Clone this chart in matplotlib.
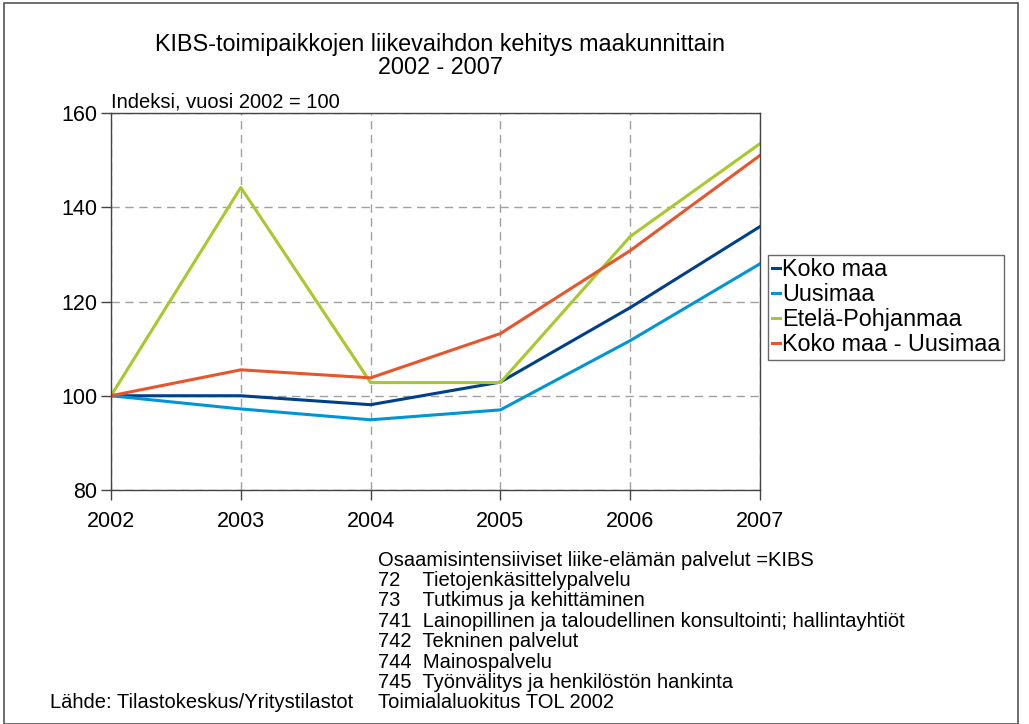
import matplotlib
matplotlib.use("Agg")
import matplotlib.pyplot as plt
from matplotlib.patches import Rectangle

plt.rcParams['font.family'] = ['Liberation Sans', 'DejaVu Sans']

years = [2002, 2003, 2004, 2005, 2006, 2007]
koko_maa = [100, 100, 98.1, 102.9, 118.7, 135.9]
uusimaa = [100, 97.2, 94.9, 97.0, 111.7, 128.0]
etela_pohjanmaa = [100, 144.2, 102.8, 102.8, 133.8, 153.5]
koko_maa_uusimaa = [100, 105.5, 103.8, 113.2, 130.8, 151.0]

series_names = ["Koko maa", "Uusimaa", "Etelä-Pohjanmaa", "Koko maa - Uusimaa"]
colors = ["#003F8A", "#0095D6", "#A8C92B", "#E8552B"]

notes = [
    "Osaamisintensiiviset liike-elämän palvelut =KIBS",
    "72    Tietojenkäsittelypalvelu",
    "73    Tutkimus ja kehittäminen",
    "741  Lainopillinen ja taloudellinen konsultointi; hallintayhtiöt",
    "742  Tekninen palvelut",
    "744  Mainospalvelu",
    "745  Työnvälitys ja henkilöstön hankinta",
    "Toimialaluokitus TOL 2002",
]

fig = plt.figure(figsize=(10.29, 7.24), dpi=100)
fig.patches.append(Rectangle((4/1029, 0), 1014/1029, 1 - 3/724, transform=fig.transFigure,
                             fill=False, edgecolor="#555555", linewidth=1.2))

ax = fig.add_axes([111/1029, 1 - 490/724, (760 - 111)/1029, (490 - 113)/724])
for vals, name, c in zip([koko_maa, uusimaa, etela_pohjanmaa, koko_maa_uusimaa], series_names, colors):
    ax.plot(years, vals, color=c, linewidth=2.2, label=name)

ax.set_xlim(2002, 2007)
ax.set_ylim(80, 160)
ax.set_xticks(years)
ax.set_yticks([80, 100, 120, 140, 160])
ax.tick_params(axis='both', labelsize=15.5, direction='out', length=7, width=1, color="#444444")
ax.tick_params(axis='x', pad=8)
ax.tick_params(axis='y', pad=3)
ax.grid(True, linestyle=(0, (6, 4)), color="#A0A0A0", linewidth=1)
for s in ax.spines.values():
    s.set_color("#444444")
    s.set_linewidth(1)

leg = ax.legend(loc='upper left', bbox_to_anchor=(768/1029, 1 - 255/724), bbox_transform=fig.transFigure,
                fontsize=16.8, frameon=True, fancybox=False, handlelength=0.35, handletextpad=0.1,
                borderpad=0.15, labelspacing=0.08, borderaxespad=0)
leg.get_frame().set_edgecolor("#444444")
leg.get_frame().set_linewidth(1)

fig.text(440/1029, 1 - 45/724, "KIBS-toimipaikkojen liikevaihdon kehitys maakunnittain",
         ha='center', va='center', fontsize=16.8)
fig.text(440/1029, 1 - 68/724, "2002 - 2007", ha='center', va='center', fontsize=16.8)
fig.text(111/1029, 1 - 102/724, "Indeksi, vuosi 2002 = 100", ha='left', va='center', fontsize=14.5)

y0 = 560
for i, line in enumerate(notes):
    fig.text(378/1029, 1 - (y0 + i * 20.4)/724, line, ha='left', va='center', fontsize=14.5)
fig.text(50/1029, 1 - 703/724, "Lähde: Tilastokeskus/Yritystilastot", ha='left', va='center', fontsize=14.5)

fig.savefig("out.png", dpi=100)
